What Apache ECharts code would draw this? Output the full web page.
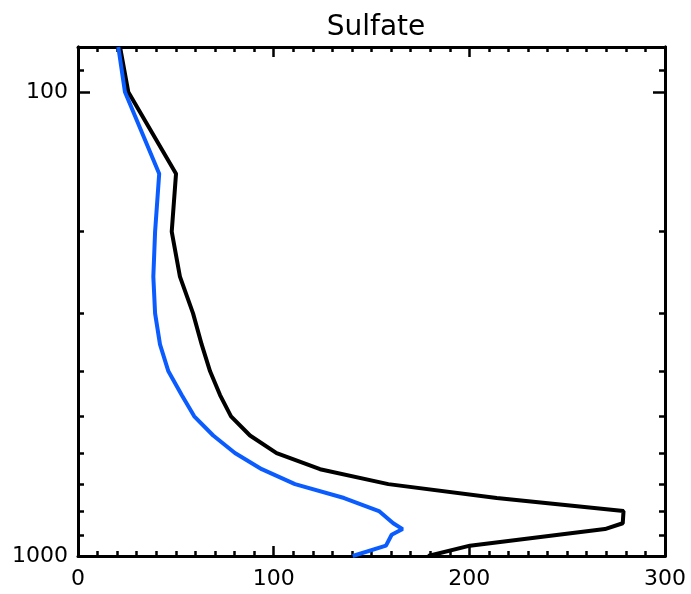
<!DOCTYPE html>
<html>
<head>
<meta charset="utf-8">
<script src="https://cdn.jsdelivr.net/npm/echarts@6/dist/echarts.min.js"></script>
<style>
html,body{margin:0;padding:0;background:#fff;}
#chart{width:691px;height:594px;}
</style>
</head>
<body>
<div id="chart"></div>
<script>
// Pressure levels (hPa) and sulfate values for each profile
const pressureBlack = [80, 100, 150, 200, 250, 300, 350, 400, 450, 500, 550, 600, 650, 700, 750, 800, 850, 875, 950, 1000];
const sulfateBlack  = [21.5, 25.7, 50.1, 47.9, 52.1, 58.8, 63.2, 67.5, 72.6, 78.2, 87.9, 101.5, 123.7, 158.6, 214.0, 278.8, 278.4, 269.3, 200.3, 178.9];
const pressureBlue  = [80, 100, 150, 200, 250, 300, 350, 400, 450, 500, 550, 600, 650, 700, 750, 800, 850, 875, 900, 950, 1000];
const sulfateBlue   = [20.6, 24.0, 41.5, 39.4, 38.5, 39.4, 41.9, 46.2, 53.0, 59.4, 69.1, 80.2, 93.9, 110.9, 136.0, 153.8, 161.1, 165.9, 160.3, 157.4, 140.4];
const xTickLabels = [0, 100, 200, 300];
const yMajorTicks = [100, 1000];
const yMinorTicks = [90, 200, 300, 400, 500, 600, 700, 800, 900];
const titleText = 'Sulfate';

const font = 'DejaVu Sans';
const black = '#000000';
const blue = '#0a5cff';

function pairs(xs, ps) { return xs.map((v, i) => [v, ps[i]]); }

function yAx(position, ticks, len, labels) {
  return {
    type: 'log', logBase: 10, inverse: true, min: 80, max: 1000, position: position,
    axisLine: {show: true, lineStyle: {color: black, width: 3}},
    axisTick: {show: true, inside: true, length: len, customValues: ticks, lineStyle: {color: black, width: 2.5}},
    axisLabel: labels ? {show: true, customValues: yMajorTicks, color: black, fontSize: 22, fontFamily: font, margin: 10,
      formatter: v => String(Math.round(v))} : {show: false},
    splitLine: {show: false}, minorTick: {show: false}, minorSplitLine: {show: false}
  };
}
function xAx(position, labels) {
  return {
    type: 'value', min: 0, max: 300, interval: 100, position: position,
    axisLine: {show: true, onZero: false, lineStyle: {color: black, width: 3}},
    axisTick: {show: true, inside: true, length: 10, lineStyle: {color: black, width: 2.5}},
    minorTick: {show: true, splitNumber: 10, length: 5, lineStyle: {color: black, width: 2.5}},
    axisLabel: labels ? {show: true, color: black, fontSize: 22, fontFamily: font, margin: 12,
      formatter: v => xTickLabels.indexOf(v) >= 0 ? String(v) : ''} : {show: false},
    splitLine: {show: false}
  };
}

const chart = echarts.init(document.getElementById('chart'), null, {renderer: 'canvas'});
chart.setOption({
  animation: false,
  backgroundColor: '#ffffff',
  title: {text: titleText, left: 371, textAlign: 'center', top: 9,
    textStyle: {fontFamily: font, fontSize: 28, fontWeight: 'normal', color: black}},
  grid: {left: 78, right: 26, top: 47, bottom: 38, containLabel: false},
  xAxis: [xAx('bottom', true), xAx('top', false)],
  yAxis: [yAx('left', yMajorTicks, 12, true), yAx('left', yMinorTicks, 6, false),
          yAx('right', yMajorTicks, 12, false), yAx('right', yMinorTicks, 6, false)],
  series: [
    {type: 'line', xAxisIndex: 0, yAxisIndex: 0, data: pairs(sulfateBlack, pressureBlack), showSymbol: false,
      clip: true, lineStyle: {color: black, width: 4}, z: 3},
    {type: 'line', xAxisIndex: 0, yAxisIndex: 0, data: pairs(sulfateBlue, pressureBlue), showSymbol: false,
      clip: true, lineStyle: {color: blue, width: 4}, z: 4}
  ]
});
</script>
</body>
</html>
